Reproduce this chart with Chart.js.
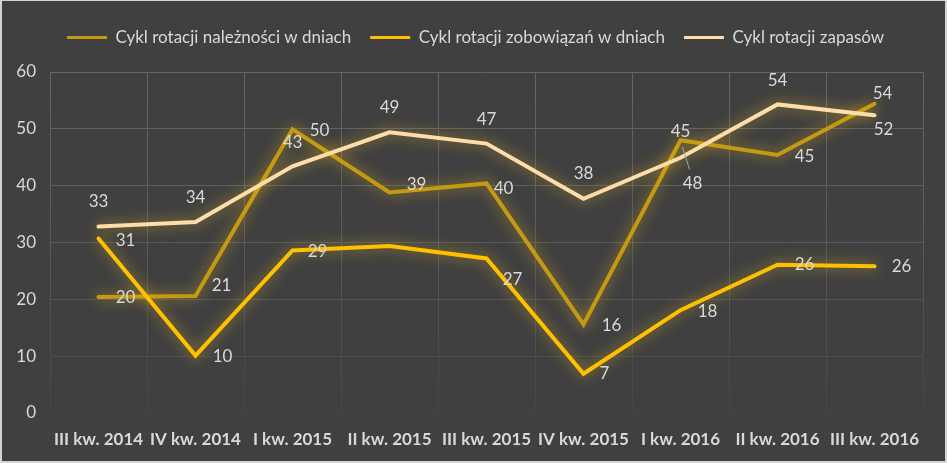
<!DOCTYPE html>
<html>
<head>
<meta charset="utf-8">
<script src="https://cdn.jsdelivr.net/npm/chart.js@4.4.1/dist/chart.umd.min.js"></script>
<style>
  html, body { margin: 0; padding: 0; background: #d4d4d4; width: 947px; height: 463px; overflow: hidden; }
  #wrap { position: absolute; left: 2px; top: 1px; width: 943px; height: 460px; background: #404040; }
  canvas { display: block; }
</style>
</head>
<body>
<div id="wrap"><canvas id="c" width="943" height="460"></canvas></div>
<script>
// ---- data ----
const categories = ['III kw. 2014', 'IV kw. 2014', 'I kw. 2015', 'II kw. 2015', 'III kw. 2015', 'IV kw. 2015', 'I kw. 2016', 'II kw. 2016', 'III kw. 2016'];
const seriesNames = ['Cykl rotacji należności w dniach', 'Cykl rotacji zobowiązań w dniach', 'Cykl rotacji zapasów'];
const naleznosci = [20.4, 20.6, 49.9, 38.8, 40.4, 15.6, 48.0, 45.4, 54.4];
const zobowiazania = [30.7, 10.1, 28.6, 29.4, 27.2, 6.9, 18.1, 26.1, 25.8];
const zapasy = [32.8, 33.6, 43.4, 49.4, 47.4, 37.7, 44.9, 54.3, 52.4];
const yMin = 0, yMax = 60, yStep = 10;

// ---- label placement (layout only: pixel offsets from each point) ----
const labelOffsets = [
  [[27,0],[26,-10],[27,1],[27,-8],[17,5],[28,1],[12,43],[27,2],[8,-10]],
  [[27,2],[27,1],[25,1],null,[26,21],[21,0],[27,1],[27,0],[27,0]],
  [[0,-25],[0,-25],[0,-24],[0,-25],[0,-24],[0,-25],[0,-26],[0,-24],[9,14]]
];
const leaders = [[0,6]];

const colors = ['#C49A12', '#FFC000', '#FFDDAA'];
const FONT = 'Lato, "Open Sans", sans-serif';
const TXT = '#D9D9D9';

const glowPlugin = {
  id: 'glow',
  beforeDatasetDraw(chart) {
    const ctx = chart.ctx;
    ctx.save();
    ctx.shadowColor = 'rgba(255,200,30,0.6)';
    ctx.shadowBlur = 14;
  },
  afterDatasetDraw(chart) { chart.ctx.restore(); }
};

const labelPlugin = {
  id: 'pointLabels',
  afterDatasetsDraw(chart) {
    const ctx = chart.ctx;
    ctx.save();
    ctx.font = '17px ' + FONT;
    ctx.fillStyle = TXT;
    ctx.textAlign = 'center';
    ctx.textBaseline = 'middle';
    chart.data.datasets.forEach((ds, i) => {
      const meta = chart.getDatasetMeta(i);
      meta.data.forEach((pt, j) => {
        const off = labelOffsets[i][j];
        if (!off) return;
        ctx.fillText(String(Math.round(ds.data[j])), pt.x + off[0], pt.y + off[1]);
      });
    });
    ctx.strokeStyle = '#A6A6A6';
    ctx.lineWidth = 1;
    leaders.forEach(([i, j]) => {
      const pt = chart.getDatasetMeta(i).data[j];
      const off = labelOffsets[i][j];
      ctx.beginPath();
      ctx.moveTo(pt.x + off[0] * 0.15, pt.y + off[1] * 0.15);
      ctx.lineTo(pt.x + off[0] * 0.75, pt.y + off[1] * 0.68);
      ctx.stroke();
    });
    ctx.restore();
  }
};

const legendSizePlugin = {
  id: 'legendSize',
  afterInit(chart) {
    const lg = chart.legend;
    if (!lg) return;
    const f = lg.fit;
    lg.fit = function () { f.call(this); this.height = 61; };
    const d = lg.draw;
    lg.draw = function () {
      const ctx = this.ctx;
      ctx.save();
      ctx.translate(13, -1);
      d.call(this);
      ctx.restore();
    };
  }
};

function gridGrad(ctx) {
  const chart = ctx.chart;
  const a = chart.chartArea;
  if (!a) return '#5a5a5a';
  const g = chart.ctx.createLinearGradient(0, a.top, 0, a.bottom);
  g.addColorStop(0, '#666666');
  g.addColorStop(0.55, '#585858');
  g.addColorStop(1, '#454545');
  return g;
}

const mk = (name, data, color, order) => ({
  label: name, data, borderColor: color, backgroundColor: color,
  borderWidth: 4, pointRadius: 0, pointHoverRadius: 0, tension: 0,
  borderCapStyle: 'round', borderJoinStyle: 'miter', fill: false, order
});

new Chart(document.getElementById('c'), {
  type: 'line',
  data: {
    labels: categories,
    datasets: [
      mk(seriesNames[0], naleznosci, colors[0], 3),
      mk(seriesNames[1], zobowiazania, colors[1], 2),
      mk(seriesNames[2], zapasy, colors[2], 1)
    ]
  },
  options: {
    responsive: false,
    animation: false,
    devicePixelRatio: 1,
    layout: { padding: { top: 10, left: 0, right: 22, bottom: 0 } },
    plugins: {
      tooltip: { enabled: false },
      legend: {
        position: 'top',
        align: 'center',
        labels: {
          boxWidth: 40,
          boxHeight: 3,
          padding: 19,
          color: TXT,
          font: { family: FONT, size: 17 },
          sort: (a, b) => a.datasetIndex - b.datasetIndex,
          generateLabels(chart) {
            const items = Chart.defaults.plugins.legend.labels.generateLabels(chart);
            items.forEach(it => { it.lineWidth = 0; it.fillStyle = it.strokeStyle; });
            return items;
          }
        }
      }
    },
    scales: {
      x: {
        offset: true,
        grid: { offset: true, color: gridGrad, drawTicks: false, lineWidth: 1 },
        border: { display: false },
        ticks: {
          color: TXT, padding: 16, maxRotation: 0, autoSkip: false,
          font: { family: FONT, size: 17, weight: 'bold' }
        },
        afterFit(s) { s.height = 48; }
      },
      y: {
        min: yMin, max: yMax,
        grid: { color: gridGrad, drawTicks: false, lineWidth: 1 },
        border: { display: false },
        ticks: {
          stepSize: yStep, color: TXT, padding: 14,
          font: { family: FONT, size: 17 }
        },
        afterFit(s) { s.width = 48; }
      }
    }
  },
  plugins: [legendSizePlugin, glowPlugin, labelPlugin]
});
</script>
</body>
</html>
